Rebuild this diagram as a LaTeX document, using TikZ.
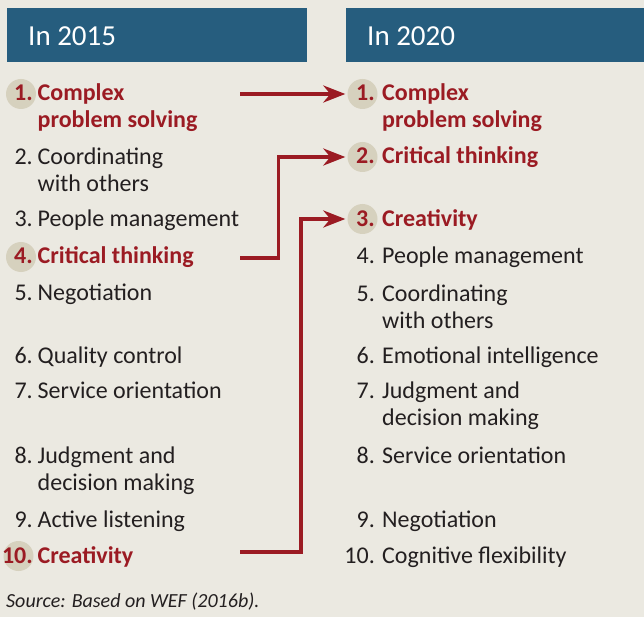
\documentclass[tikz,border=0pt]{standalone}
\usepackage{fontspec}
\setmainfont{Carlito}
\usetikzlibrary{arrows.meta}
\definecolor{bgc}{RGB}{235,233,225}
\definecolor{hdr}{RGB}{38,93,126}
\definecolor{circ}{RGB}{214,209,190}
\definecolor{redc}{RGB}{155,27,35}
\definecolor{txt}{RGB}{35,31,32}
\newcommand\twolines[2]{\vtop{\hbox{#1}\hbox{#2}}}
\tikzset{
  itemtxt/.style={anchor=base west,inner sep=0pt,text=txt,font=\fontsize{24}{27}\selectfont},
  numtxt/.style={anchor=base east,inner sep=0pt,text=txt,font=\fontsize{24}{27}\selectfont},
  hiitem/.style={itemtxt,text=redc,font=\fontsize{24}{27}\selectfont\bfseries},
  hinum/.style={numtxt,text=redc,font=\fontsize{24}{27}\selectfont\bfseries},
  badge/.style={circle,fill=circ,minimum size=30pt,inner sep=0pt},
  hdrbox/.style={fill=hdr},
  hdrtxt/.style={anchor=base west,inner sep=0pt,text=white,font=\fontsize{29}{32}\selectfont},
  link/.style={draw=redc,line width=3.5pt,-{Stealth[length=22pt,width=17pt,inset=7pt]}}
}
\begin{document}
\begin{tikzpicture}[x=1pt,y=-1pt]
\fill[bgc] (0,0) rectangle (644,617);
\useasboundingbox (0,0) rectangle (644,617);
% headers
\fill[hdrbox] (7,8) rectangle (307,62);
\fill[hdrbox] (346,8) rectangle (644,62);
\node[hdrtxt] (h1) at (28,46) {In 2015};
\node[hdrtxt] (h2) at (367,46) {In 2020};
% badges
\node[badge] (cl1) at (21,94) {};
\node[badge] (cl4) at (21,257) {};
\node[badge] (cl10) at (18.5,556) {};
\node[badge] (cr1) at (362.5,94) {};
\node[badge] (cr2) at (362.5,157) {};
\node[badge] (cr3) at (362.5,219) {};
% left column
\node[hinum] (ln1) at (33,101) {1.};
\node[hiitem] (lt1) at (37.5,101) {\twolines{Complex}{problem solving}};
\node[numtxt] (ln2) at (33,165) {2.};
\node[itemtxt] (lt2) at (37.5,165) {\twolines{Coordinating}{with others}};
\node[numtxt] (ln3) at (33,227) {3.};
\node[itemtxt] (lt3) at (37.5,227) {People management};
\node[hinum] (ln4) at (33,264) {4.};
\node[hiitem] (lt4) at (37.5,264) {Critical thinking};
\node[numtxt] (ln5) at (33,300) {5.};
\node[itemtxt] (lt5) at (37.5,300) {Negotiation};
\node[numtxt] (ln6) at (33,363) {6.};
\node[itemtxt] (lt6) at (37.5,363) {Quality control};
\node[numtxt] (ln7) at (33,398) {7.};
\node[itemtxt] (lt7) at (37.5,398) {Service orientation};
\node[numtxt] (ln8) at (33,463) {8.};
\node[itemtxt] (lt8) at (37.5,463) {\twolines{Judgment and}{decision making}};
\node[numtxt] (ln9) at (33,527) {9.};
\node[itemtxt] (lt9) at (37.5,527) {Active listening};
\node[hinum] (ln10) at (33,563) {10.};
\node[hiitem] (lt10) at (37.5,563) {Creativity};
% right column
\node[hinum] (rn1) at (375,101) {1.};
\node[hiitem] (rt1) at (382,101) {\twolines{Complex}{problem solving}};
\node[hinum] (rn2) at (375,164) {2.};
\node[hiitem] (rt2) at (382,164) {Critical thinking};
\node[hinum] (rn3) at (375,227) {3.};
\node[hiitem] (rt3) at (382,227) {Creativity};
\node[numtxt] (rn4) at (375,263) {4.};
\node[itemtxt] (rt4) at (382,263) {People management};
\node[numtxt] (rn5) at (375,301) {5.};
\node[itemtxt] (rt5) at (382,301) {\twolines{Coordinating}{with others}};
\node[numtxt] (rn6) at (375,363) {6.};
\node[itemtxt] (rt6) at (382,363) {Emotional intelligence};
\node[numtxt] (rn7) at (375,398) {7.};
\node[itemtxt] (rt7) at (382,398) {\twolines{Judgment and}{decision making}};
\node[numtxt] (rn8) at (375,463) {8.};
\node[itemtxt] (rt8) at (382,463) {Service orientation};
\node[numtxt] (rn9) at (375,527) {9.};
\node[itemtxt] (rt9) at (382,527) {Negotiation};
\node[numtxt] (rn10) at (375,563) {10.};
\node[itemtxt] (rt10) at (382,563) {Cognitive flexibility};
% source
\node[anchor=base west,inner sep=0pt,text=txt,font=\fontsize{20}{24}\selectfont\itshape] (src) at (6,607) {Source: Based on WEF (2016b).};
% connectors
\coordinate (s1) at (240,94);
\coordinate (s2) at (240,258);
\coordinate (s3) at (240,552);
\draw[link,shorten >=2pt] (s1) -- (s1 -| cr1.west);
\draw[link,shorten >=2pt] (s2) -- ++(38.5,0) |- (cr2.west);
\draw[link,shorten >=2pt] (s3) -- ++(61,0) |- (cr3.west);
\end{tikzpicture}
\end{document}
